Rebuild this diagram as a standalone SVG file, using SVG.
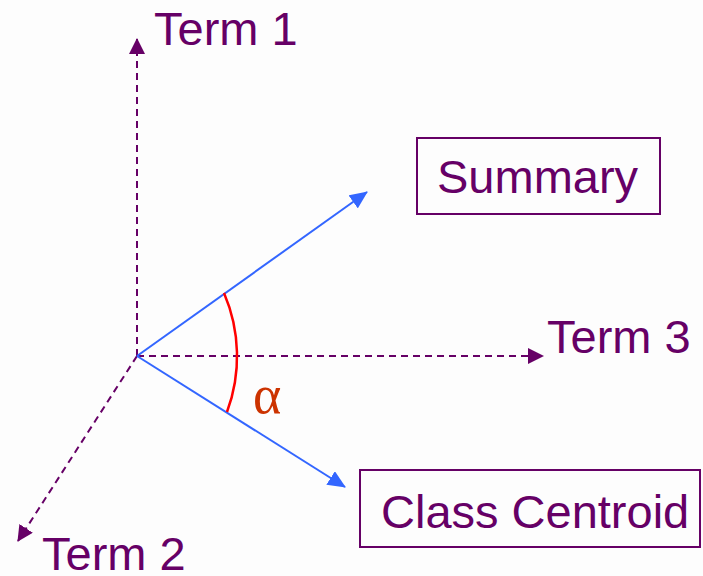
<svg xmlns="http://www.w3.org/2000/svg" width="703" height="576" viewBox="0 0 703 576">
  <style>
    .axis { stroke: #660066; stroke-width: 2; stroke-dasharray: 7 5; fill: none; }
    .vec { stroke: #3366ff; stroke-width: 2; fill: none; }
    .label { font-family: "Liberation Sans", Arial, sans-serif; font-size: 47px; fill: #660066; }
    .box { fill: none; stroke: #660066; stroke-width: 2; }
  </style>
  <defs>
    <marker id="axisHead" markerUnits="userSpaceOnUse" markerWidth="16" markerHeight="16" viewBox="0 0 16 16" refX="15" refY="8" orient="auto">
      <path d="M0,0 L16,8 L0,16 Z" fill="#660066"/>
    </marker>
    <marker id="vecHead" markerUnits="userSpaceOnUse" markerWidth="18" markerHeight="16" viewBox="0 0 18 16" refX="17" refY="8" orient="auto">
      <path d="M0,0 L18,8 L0,16 Z" fill="#3366ff"/>
    </marker>
  </defs>
  <rect width="703" height="576" fill="#fdfdfd"/>

  <g id="connectors">
    <line id="axis-term1" class="axis" x1="137" y1="356" x2="137" y2="39" marker-end="url(#axisHead)"/>
    <line id="axis-term3" class="axis" x1="137" y1="356" x2="543" y2="356" marker-end="url(#axisHead)"/>
    <line id="axis-term2" class="axis" x1="137" y1="356" x2="18" y2="541" marker-end="url(#axisHead)"/>
    <line id="vec-summary" class="vec" x1="137" y1="356" x2="367" y2="192" marker-end="url(#vecHead)"/>
    <line id="vec-centroid" class="vec" x1="137" y1="356" x2="345" y2="487" marker-end="url(#vecHead)"/>
    <path id="angle-arc" d="M224,293 A160,160 0 0 1 227,412" fill="none" stroke="#ff0000" stroke-width="2.5"/>
  </g>

  <g id="term1">
    <text class="label" x="154" y="45">Term 1</text>
  </g>
  <g id="term2">
    <text class="label" x="42" y="570">Term 2</text>
  </g>
  <g id="term3">
    <text class="label" x="547" y="353">Term 3</text>
  </g>
  <g id="alpha">
    <text x="253" y="413" font-family="'Liberation Serif', 'Times New Roman', serif" font-size="54" fill="#cc3300">α</text>
  </g>
  <g id="summary">
    <rect class="box" x="417" y="138" width="243" height="76"/>
    <text class="label" x="437" y="193">Summary</text>
  </g>
  <g id="class-centroid">
    <rect class="box" x="360" y="470" width="340" height="77"/>
    <text class="label" x="381" y="528">Class Centroid</text>
  </g>
</svg>
